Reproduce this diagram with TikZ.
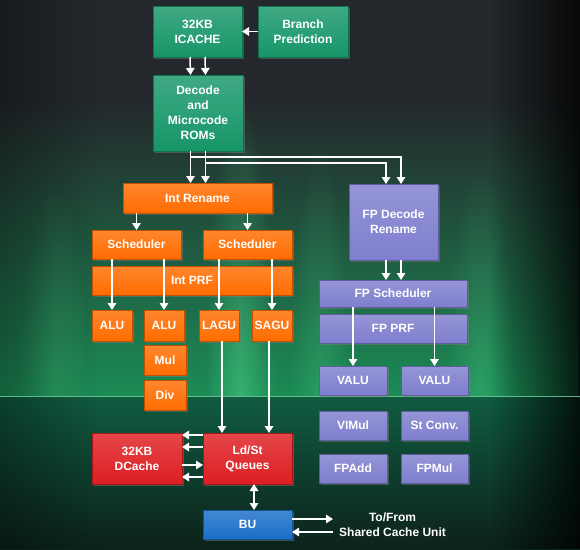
\documentclass[tikz,border=0pt]{standalone}
\usepackage{fontspec}
\setmainfont{Liberation Sans}
\usetikzlibrary{arrows.meta,fadings,shadows}
\definecolor{boxgreen}{RGB}{22,150,104}
\definecolor{boxorange}{RGB}{255,108,0}
\definecolor{boxred}{RGB}{222,30,34}
\definecolor{boxpurple}{RGB}{126,126,206}
\definecolor{boxblue}{RGB}{26,110,200}
\definecolor{bgdark}{RGB}{36,40,44}
\definecolor{glow}{RGB}{28,140,86}
\definecolor{streak}{RGB}{90,235,150}
\definecolor{lowtop}{RGB}{16,92,64}
\definecolor{lowbot}{RGB}{12,34,28}
\definecolor{horizon}{RGB}{120,215,160}
\tikzfading[name=softglow, inner color=transparent!20, outer color=transparent!100]

\begin{document}
\begin{tikzpicture}[x=1pt, y=-1pt,
	box/.style={anchor=north west, inner sep=0pt, outer sep=0pt, align=center, text=white,
		font=\bfseries\fontsize{12}{15}\selectfont,
		drop shadow={shadow xshift=1.5pt, shadow yshift=-1.5pt, opacity=0.45}},
	blk/.style={box, top color=#1!82!white, bottom color=#1, draw=#1!75!black, line width=0.4pt},
	arr/.style={draw=white, line width=1.5pt, -{Triangle[width=8.5pt,length=7pt]}},
	arr2/.style={arr, {Triangle[width=8.5pt,length=7pt]}-{Triangle[width=8.5pt,length=7pt]}},
	]
	\useasboundingbox (0,0) rectangle (580,549);

	% background
	\fill[bgdark] (0,0) rectangle (580,549);
	\fill[glow, path fading=north] (0,100) rectangle (580,396);
	\fill[streak, opacity=0.5, path fading=softglow] (205,100) rectangle (275,690);
	\fill[streak, opacity=0.3, path fading=softglow] (20,180) rectangle (90,610);
	\fill[streak, opacity=0.3, path fading=softglow] (445,160) rectangle (515,630);
	\fill[streak, opacity=0.25, path fading=softglow] (290,140) rectangle (350,650);
	\shade[top color=lowtop, bottom color=lowbot] (0,396) rectangle (580,549);
	\fill[black, opacity=0.3, path fading=east] (0,0) rectangle (100,549);
	\fill[black, opacity=0.8, path fading=west] (490,0) rectangle (580,549);
	\draw[horizon, line width=1pt, opacity=0.8] (0,396) -- (580,396);

	% front end
	\node[blk=boxgreen, minimum width=89, minimum height=51] (icache) at (153,6) {32KB\\ICACHE};
	\node[blk=boxgreen, minimum width=90, minimum height=51] (bp) at (258,6) {Branch\\Prediction};
	\node[blk=boxgreen, minimum width=90, minimum height=76] (dec) at (153,75) {Decode\\and\\Microcode\\ROMs};

	% integer
	\node[blk=boxorange, minimum width=149, minimum height=30] (irn) at (123,183) {Int Rename};
	\node[blk=boxorange, minimum width=89, minimum height=29] (sch1) at (92,230) {Scheduler};
	\node[blk=boxorange, minimum width=89, minimum height=29] (sch2) at (203,230) {Scheduler};
	\node[blk=boxorange, minimum width=200, minimum height=29] (iprf) at (92,266) {Int PRF};
	\node[blk=boxorange, minimum width=40, minimum height=31] (alu1) at (92,310) {ALU};
	\node[blk=boxorange, minimum width=40, minimum height=31] (alu2) at (144,310) {ALU};
	\node[blk=boxorange, minimum width=40, minimum height=31] (lagu) at (199,310) {LAGU};
	\node[blk=boxorange, minimum width=40, minimum height=31] (sagu) at (252,310) {SAGU};
	\node[blk=boxorange, minimum width=42, minimum height=30] (mul) at (144,345) {Mul};
	\node[blk=boxorange, minimum width=42, minimum height=30] (div) at (144,380) {Div};

	% memory
	\node[blk=boxred, minimum width=90, minimum height=51] (dc) at (92,433) {32KB\\DCache};
	\node[blk=boxred, minimum width=89, minimum height=51] (ldst) at (203,433) {Ld/St\\Queues};
	\node[blk=boxblue, minimum width=89, minimum height=29] (bu) at (203,510) {BU};
	\node[anchor=west, inner sep=6pt, align=center, text=white, font=\bfseries\fontsize{12}{15}\selectfont]
		(shared) at (333,525) {To/From\\Shared Cache Unit};

	% floating point
	\node[blk=boxpurple, minimum width=89, minimum height=76] (fpd) at (349,184) {FP Decode\\Rename};
	\node[blk=boxpurple, minimum width=148, minimum height=27] (fps) at (319,280) {FP Scheduler};
	\node[blk=boxpurple, minimum width=148, minimum height=29] (fpprf) at (319,314) {FP PRF};
	\node[blk=boxpurple, minimum width=68, minimum height=29] (valu1) at (319,366) {VALU};
	\node[blk=boxpurple, minimum width=67, minimum height=29] (valu2) at (401,366) {VALU};
	\node[blk=boxpurple, minimum width=68, minimum height=29] (vimul) at (319,411) {VIMul};
	\node[blk=boxpurple, minimum width=67, minimum height=29] (stc) at (401,411) {St Conv.};
	\node[blk=boxpurple, minimum width=68, minimum height=29] (fpadd) at (319,454) {FPAdd};
	\node[blk=boxpurple, minimum width=67, minimum height=29] (fpmul) at (401,454) {FPMul};

	% connectors
	\draw[arr] (bp.west) -- (icache.east);
	\draw[arr] ([xshift=-7.5pt]icache.south) -- ([xshift=-7.5pt]dec.north);
	\draw[arr] ([xshift=7.5pt]icache.south) -- ([xshift=7.5pt]dec.north);
	\draw[arr] ([xshift=-7.5pt]dec.south) -- ([xshift=-7.5pt]dec.south |- irn.north);
	\draw[arr] ([xshift=7.5pt]dec.south) -- ([xshift=7.5pt]dec.south |- irn.north);
	\draw[arr] ([xshift=-7.5pt]dec.south) ++(0,6) -| ([xshift=7.5pt]fpd.north);
	\draw[arr] ([xshift=7.5pt]dec.south) ++(0,12) -| ([xshift=-7.5pt]fpd.north);
	\draw[arr] (sch1.north |- irn.south) -- (sch1.north);
	\draw[arr] (sch2.north |- irn.south) -- (sch2.north);
	\draw[arr] (alu1.north |- sch1.south) -- (alu1.north);
	\draw[arr] (alu2.north |- sch1.south) -- (alu2.north);
	\draw[arr] (lagu.north |- sch2.south) -- (lagu.north);
	\draw[arr] (sagu.north |- sch2.south) -- (sagu.north);
	\draw[arr] ([xshift=3pt]lagu.south) -- ([xshift=3pt]lagu.south |- ldst.north);
	\draw[arr] ([xshift=-3pt]sagu.south) -- ([xshift=-3pt]sagu.south |- ldst.north);
	\draw[arr] ([yshift=-2pt]ldst.north west) -- ([yshift=-2pt]dc.north east);
	\draw[arr] ([yshift=-14pt]ldst.north west) -- ([yshift=-14pt]dc.north east);
	\draw[arr] ([yshift=-32pt]dc.north east) -- ([yshift=-32pt]ldst.north west);
	\draw[arr] ([yshift=-44pt]ldst.north west) -- ([yshift=-44pt]dc.north east);
	\draw[arr2] ([xshift=6.5pt]ldst.south) -- ([xshift=6.5pt]bu.north);
	\draw[arr] ([yshift=5.5pt]bu.east) -- ([yshift=5.5pt]bu.east -| shared.west);
	\draw[arr] ([yshift=-7.5pt]bu.east -| shared.west) -- ([yshift=-7.5pt]bu.east);
	\draw[arr] ([xshift=-7.5pt]fpd.south) -- ([xshift=-7.5pt]fpd.south |- fps.north);
	\draw[arr] ([xshift=7.5pt]fpd.south) -- ([xshift=7.5pt]fpd.south |- fps.north);
	\draw[arr] (valu1.north |- fps.south) -- (valu1.north);
	\draw[arr] (valu2.north |- fps.south) -- (valu2.north);
\end{tikzpicture}
\end{document}
